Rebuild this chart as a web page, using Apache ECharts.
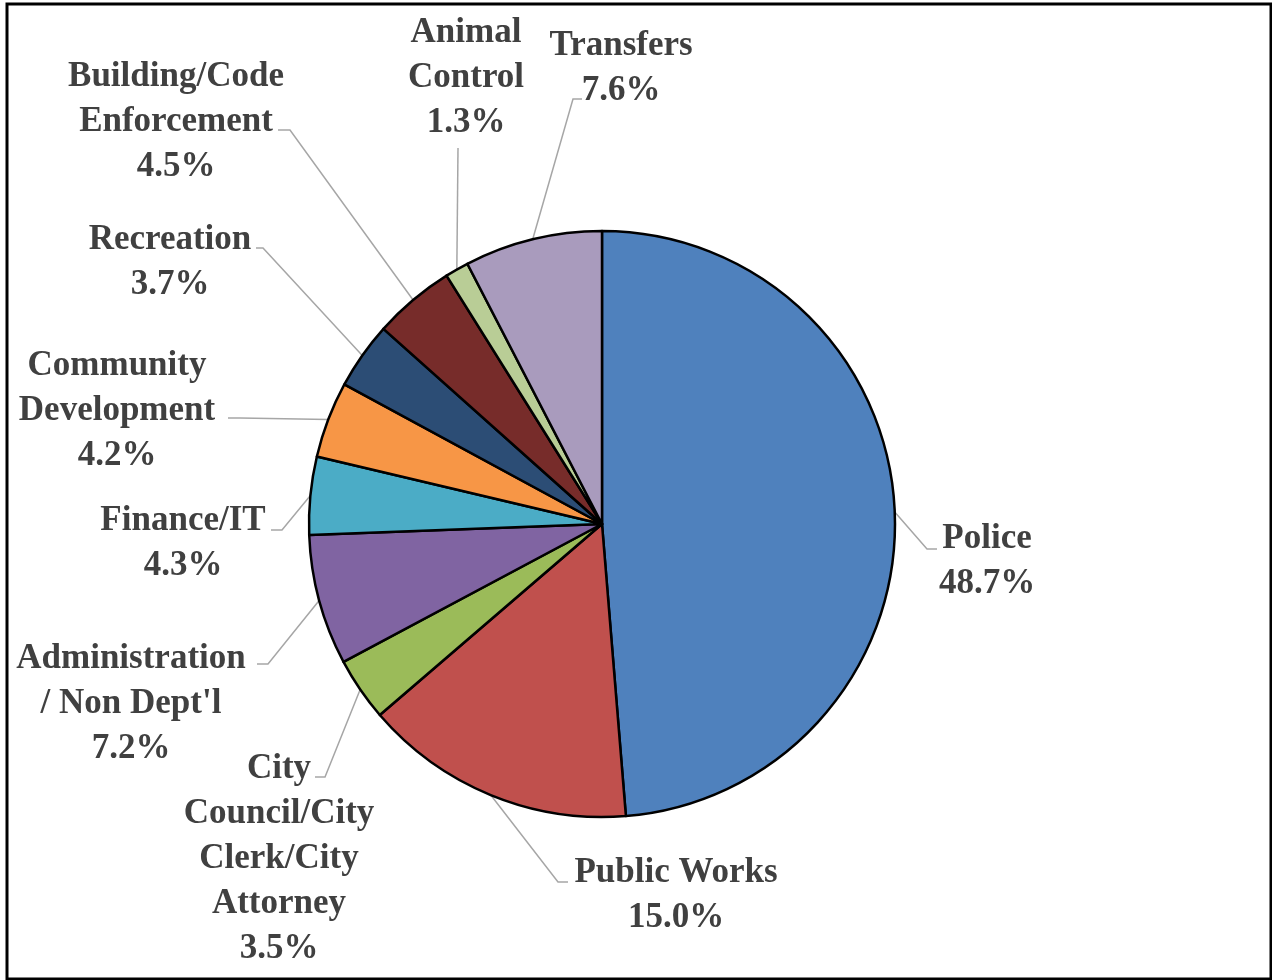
<!DOCTYPE html>
<html>
<head>
<meta charset="utf-8">
<title>General Fund Expenditures by Department</title>
<script src="https://cdn.jsdelivr.net/npm/echarts@6/dist/echarts.min.js"></script>
<style>
  html, body { margin: 0; padding: 0; background: #ffffff; }
  #chart { width: 1272px; height: 980px; }
</style>
</head>
<body>
<div id="chart"></div>
<script>
// Departments, clockwise from 12 o'clock
const categories = [
  'Police',
  'Public Works',
  'City\nCouncil/City\nClerk/City\nAttorney',
  'Administration\n/ Non Dept\'l',
  'Finance/IT',
  'Community\nDevelopment',
  'Recreation',
  'Building/Code\nEnforcement',
  'Animal\nControl',
  'Transfers'
];

// Share of the budget, percent
const shares = [48.7, 15.0, 3.5, 7.2, 4.3, 4.2, 3.7, 4.5, 1.3, 7.6];

const sliceColors = [
  '#4F81BD', '#C0504D', '#9BBB59', '#8064A2', '#4BACC6',
  '#F79646', '#2C4D75', '#772C2A', '#B9CD96', '#A99BBD'
];

// Label placement: [centre x, first-line middle y, elbow x, elbow y, end x, end y]
const labelSpots = [
  [987, 539, 927, 549, 937, 549],
  [676, 873, 558, 882, 568, 882],
  [279, 769, 325, 777, 315, 777],
  [131, 659, 268, 664, 257, 664],
  [183, 521, 282, 530, 271, 530],
  [117, 366, 240, 418, 228, 418],
  [170, 240, 263, 248, 256, 248],
  [176, 77, 290, 130, 278, 130],
  [466, 33, 458, 148, 458, 148],
  [621, 46, 573, 99, 582, 99]
];

const LINE_H = 45;
const CENTER = [602, 524];
const RADIUS = 293;

const chart = echarts.init(document.getElementById('chart'), null, { renderer: 'canvas' });

const pieData = categories.map(function (name, i) {
  return { name: name, value: shares[i], itemStyle: { color: sliceColors[i] } };
});

// Fallback for the arc point at a slice's mid-angle
function arcMidPoint(idx) {
  let before = 0, total = 0;
  shares.forEach(function (v, i) { total += v; if (i < idx) before += v; });
  const a = (before + shares[idx] / 2) / total * Math.PI * 2;
  return [CENTER[0] + RADIUS * Math.sin(a), CENTER[1] - RADIUS * Math.cos(a)];
}

chart.setOption({
  backgroundColor: '#ffffff',
  animation: false,
  graphic: [{
    type: 'rect',
    silent: true,
    z: 100,
    shape: { x: 7, y: 4, width: 1264, height: 975 },
    style: { fill: 'none', stroke: '#000000', lineWidth: 3 }
  }],
  series: [{
    type: 'pie',
    center: CENTER,
    radius: RADIUS,
    startAngle: 90,
    clockwise: true,
    avoidLabelOverlap: false,
    data: pieData,
    itemStyle: { borderColor: '#000000', borderWidth: 2.5 },
    label: {
      show: true,
      position: 'outside',
      formatter: function (p) { return p.name + '\n' + Number(p.value).toFixed(1) + '%'; },
      fontFamily: '"Liberation Serif", "DejaVu Serif", serif',
      fontWeight: 'bold',
      fontSize: 35,
      lineHeight: LINE_H,
      color: '#404040',
      align: 'center'
    },
    labelLine: {
      show: true,
      length: 20,
      length2: 10,
      lineStyle: { color: '#A6A6A6', width: 1.5 }
    },
    labelLayout: function (p) {
      const s = labelSpots[p.dataIndex];
      const start = (p.labelLinePoints && p.labelLinePoints[0]) || arcMidPoint(p.dataIndex);
      return {
        x: s[0],
        y: s[1] - LINE_H / 2,
        align: 'center',
        verticalAlign: 'top',
        labelLinePoints: [start, [s[2], s[3]], [s[4], s[5]]]
      };
    },
    emphasis: { disabled: true }
  }]
});
</script>
</body>
</html>
